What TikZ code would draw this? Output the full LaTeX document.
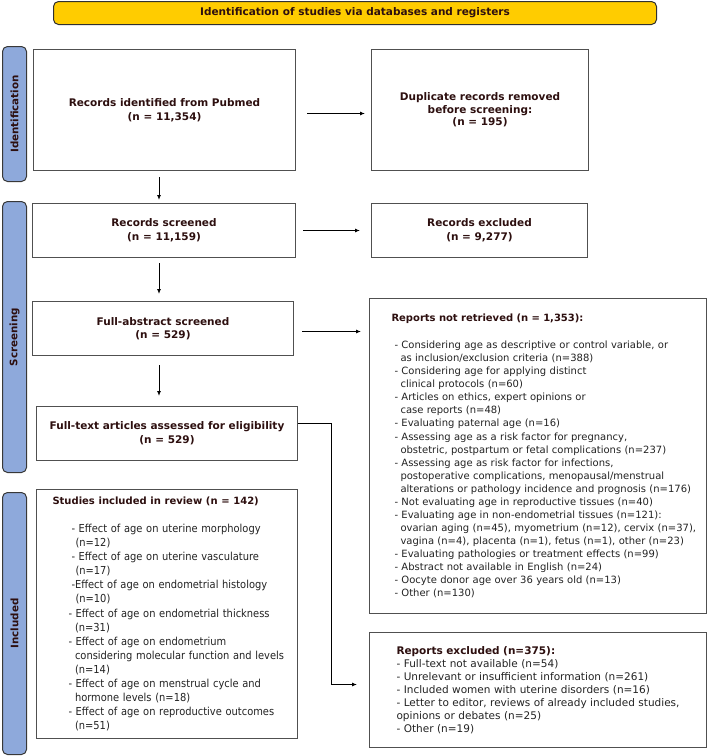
\documentclass[tikz,border=0pt]{standalone}
\usepackage{fontspec}
\usepackage{graphicx}
\setmainfont{DejaVu Sans}
\newfontfamily\condf[FakeStretch=0.9]{DejaVu Sans}
\usetikzlibrary{arrows.meta}
\definecolor{hd}{RGB}{45,15,15}
\definecolor{tx}{RGB}{35,35,35}
\definecolor{bd}{RGB}{80,80,80}
\definecolor{yel}{RGB}{255,204,0}
\definecolor{blu}{RGB}{142,169,219}
\begin{document}
\begin{tikzpicture}[x=1pt,y=-1pt,
  box/.style={draw=bd, line width=1pt, fill=white, anchor=north west, inner sep=0pt, align=center, text=hd, font=\fontsize{10.5}{14.3}\selectfont\bfseries},
  listbox/.style={box, align=left, text=tx},
  side/.style={draw=bd!70!black, line width=1pt, fill=blu, rounded corners=5pt, anchor=north west, inner sep=0pt, minimum width=24pt, text=hd, font=\fontsize{10.3}{12}\selectfont\bfseries},
  arr/.style={draw=black, line width=0.9pt, -{Latex[length=5pt,width=4pt]}},
]
\useasboundingbox (0,0) rectangle (708,756);

% title
\node[draw=bd!60!black, line width=1pt, fill=yel, rounded corners=5pt, anchor=north west, minimum width=603pt, minimum height=23pt, inner sep=0pt, text=hd, font=\fontsize{10.5}{12}\selectfont\bfseries] (title) at (53,1) {Identification of studies via databases and registers};

% side labels
\node[side, minimum height=135pt] (l1) at (2,46) {\rotatebox{90}{Identification}};
\node[side, minimum height=271pt] (l2) at (2,201) {\rotatebox{90}{Screening}};
\node[side, minimum height=262pt] (l3) at (2,492) {\rotatebox{90}{Included}};

% boxes
\node[box, minimum width=262pt, minimum height=121pt] (rid) at (33,49) {Records identified from Pubmed\\(n = 11,354)};
\node[box, minimum width=217pt, minimum height=121pt, font=\fontsize{10.5}{12.5}\selectfont\bfseries] (dup) at (371,49) {Duplicate records removed\\before screening:\\(n = 195)};
\node[box, minimum width=263pt, minimum height=54pt] (rsc) at (32,203) {Records screened\\(n = 11,159)};
\node[box, minimum width=216pt, minimum height=54pt] (rex) at (371,203) {Records excluded\\(n = 9,277)};
\node[box, minimum width=261pt, minimum height=54pt, font=\fontsize{10.5}{13.5}\selectfont\bfseries] (fab) at (32,301) {Full-abstract screened\\(n = 529)};
\node[box, minimum width=261pt, minimum height=54pt] (ftx) at (36,406) {Full-text articles assessed for eligibility\\(n = 529)};

\node[listbox, minimum width=337pt, minimum height=315pt, text width=293pt, inner xsep=22pt, font=\fontsize{10}{13.05}\selectfont] (rnr) at (369,298) {%
\textcolor{hd}{\bfseries Reports not retrieved (n = 1,353):}\\[14pt]
\hspace*{3pt}\mbox{- Considering age as descriptive or control variable, or}\\
\hspace*{9pt}\mbox{as inclusion/exclusion criteria (n=388)}\\
\hspace*{3pt}\mbox{- Considering age for applying distinct}\\
\hspace*{9pt}\mbox{clinical protocols (n=60)}\\
\hspace*{3pt}\mbox{- Articles on ethics, expert opinions or}\\
\hspace*{9pt}\mbox{case reports (n=48)}\\
\hspace*{3pt}\mbox{- Evaluating paternal age (n=16)}\\
\hspace*{3pt}\mbox{- Assessing age as a risk factor for pregnancy,}\\
\hspace*{9pt}\mbox{obstetric, postpartum or fetal complications (n=237)}\\
\hspace*{3pt}\mbox{- Assessing age as risk factor for infections,}\\
\hspace*{9pt}\mbox{postoperative complications, menopausal/menstrual}\\
\hspace*{9pt}\mbox{alterations or pathology incidence and prognosis (n=176)}\\
\hspace*{3pt}\mbox{- Not evaluating age in reproductive tissues (n=40)}\\
\hspace*{3pt}\mbox{- Evaluating age in non-endometrial tissues (n=121):}\\
\hspace*{9pt}\mbox{ovarian aging (n=45), myometrium (n=12), cervix (n=37),}\\
\hspace*{9pt}\mbox{vagina (n=4), placenta (n=1), fetus (n=1), other (n=23)}\\
\hspace*{3pt}\mbox{- Evaluating pathologies or treatment effects (n=99)}\\
\hspace*{3pt}\mbox{- Abstract not available in English (n=24)}\\
\hspace*{3pt}\mbox{- Oocyte donor age over 36 years old (n=13)}\\
\hspace*{3pt}\mbox{- Other (n=130)}};

\node[listbox, minimum width=261pt, minimum height=249pt, text width=229pt, inner xsep=16pt, font=\condf\fontsize{11}{14.07}\selectfont] (sin) at (36,489) {%
\textcolor{hd}{\normalfont\bfseries\fontsize{10}{14.07}\selectfont Studies included in review (n = 142)}\\[13.93pt]
\hspace*{19pt}\mbox{- Effect of age on uterine morphology}\\
\hspace*{23pt}\mbox{(n=12)}\\
\hspace*{19pt}\mbox{- Effect of age on uterine vasculature}\\
\hspace*{23pt}\mbox{(n=17)}\\
\hspace*{19pt}\mbox{-Effect of age on endometrial histology}\\
\hspace*{23pt}\mbox{(n=10)}\\
\hspace*{16pt}\mbox{- Effect of age on endometrial thickness}\\
\hspace*{22.5pt}\mbox{(n=31)}\\
\hspace*{16pt}\mbox{- Effect of age on endometrium}\\
\hspace*{22.5pt}\mbox{considering molecular function and levels}\\
\hspace*{22.5pt}\mbox{(n=14)}\\
\hspace*{16pt}\mbox{- Effect of age on menstrual cycle and}\\
\hspace*{22.5pt}\mbox{hormone levels (n=18)}\\
\hspace*{16pt}\mbox{- Effect of age on reproductive outcomes}\\
\hspace*{22.5pt}\mbox{(n=51)}};

\node[listbox, minimum width=337pt, minimum height=115pt, text width=283pt, inner xsep=27pt, font=\fontsize{10.5}{13}\selectfont] (rexc) at (369,632) {%
\textcolor{hd}{\bfseries Reports excluded (n=375):}\\
\mbox{- Full-text not available (n=54)}\\
\mbox{- Unrelevant or insufficient information (n=261)}\\
\mbox{- Included women with uterine disorders (n=16)}\\
\mbox{- Letter to editor, reviews of already included studies,}\\
\mbox{opinions or debates (n=25)}\\
\mbox{- Other (n=19)}};

% connectors
\coordinate (cx) at (159,0);
\coordinate (ex) at (331,0);
\draw[arr, shorten <=11pt, shorten >=6pt] ([yshift=-3.5pt]rid.east) -- ([yshift=-3.5pt]rid.east -| dup.west);
\draw[arr, shorten <=7pt, shorten >=11pt] (rsc.east) -- (rsc.east -| rex.west);
\draw[arr, shorten <=8pt, shorten >=8pt] ([yshift=-3pt]fab.east) -- ([yshift=-3pt]fab.east -| rnr.west);
\draw[arr, shorten <=6pt, shorten >=3pt] (rid.south -| cx) -- (rsc.north -| cx);
\draw[arr, shorten <=5pt, shorten >=7pt] (rsc.south -| cx) -- (fab.north -| cx);
\draw[arr, shorten <=9pt, shorten >=10pt] (fab.south -| cx) -- (ftx.north -| cx);
\coordinate (e1) at ([yshift=10pt]ftx.east);
\coordinate (e2) at ([yshift=5.5pt]rexc.west);
\draw[arr, shorten >=12pt] (e1) -- (e1 -| ex) |- (e2);
\end{tikzpicture}
\end{document}
